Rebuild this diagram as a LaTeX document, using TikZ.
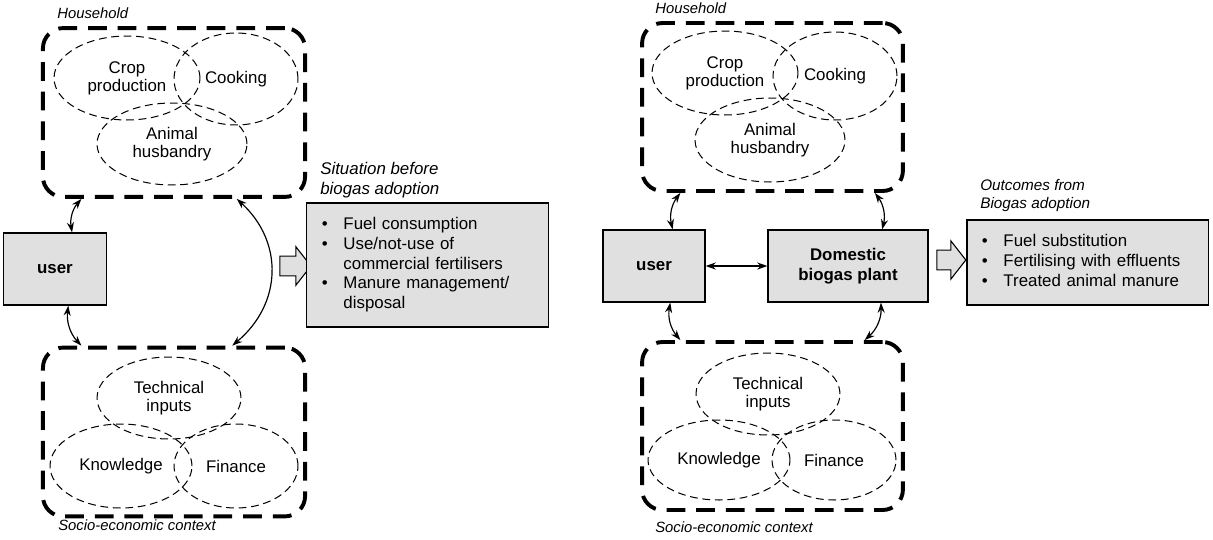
\documentclass[tikz,border=0pt]{standalone}
\usepackage{fontspec}
\setmainfont{Liberation Sans}
\usetikzlibrary{shapes.geometric, shapes.arrows, arrows.meta, positioning}
\definecolor{boxgray}{HTML}{E0E0E0}

\begin{document}
\begin{tikzpicture}[
    x=0.0225cm, y=-0.0225cm,
    every node/.style={font=\fontsize{10.8}{12.8}\selectfont},
    context/.style={rectangle, draw=black, line width=2.5pt, dash pattern=on 12pt off 7pt,
                    rounded corners=13pt, minimum width=5.9cm, minimum height=3.8cm},
    factor/.style={ellipse, draw=black, line width=0.65pt, dash pattern=on 5pt off 3pt,
                   inner sep=0pt, align=center, font=\fontsize{10.8}{11.5}\selectfont},
    actor/.style={rectangle, draw=black, line width=0.8pt, fill=boxgray, minimum height=1.62cm,
                  font=\fontsize{10.8}{12.5}\selectfont\bfseries, align=center},
    result/.style={rectangle, draw=black, line width=0.8pt, fill=boxgray, minimum width=5.42cm,
                   text width=4.75cm, inner xsep=0.34cm, align=left},
    caption/.style={font=\fontsize{9.5}{11.5}\selectfont\itshape, align=left, anchor=west, inner sep=0pt},
    link/.style={{Stealth[length=6.5pt,width=4.5pt]}-{Stealth[length=6.5pt,width=4.5pt]}, line width=0.75pt},
    bigarrow/.style={single arrow, draw=black, line width=0.7pt, fill=boxgray, inner xsep=0pt,
                     inner ysep=0.21cm, single arrow head extend=0.21cm, single arrow tip angle=104,
                     minimum height=0.7cm}
]
\useasboundingbox (0,0) rectangle (1213,539);

% Before adoption: household
\node[context] (hhA) at (174,112.5) {};
\node[caption] (hhAlab) at (57,13) {Household};
\node[factor, minimum width=3.285cm, minimum height=1.89cm] (cropA) at (127,78) {Crop\\production};
\node[factor, minimum width=2.79cm, minimum height=2.07cm] (cookA) at (236,79) {Cooking};
\node[factor, minimum width=3.375cm, minimum height=1.845cm] (animA) at (172,144) {Animal\\husbandry};

% Before adoption: socio-economic context
\node[context] (seA) at (174,432) {};
\node[caption] (seAlab) at (58,525) {Socio-economic context};
\node[factor, minimum width=3.24cm, minimum height=1.845cm] (techA) at (169,398) {Technical\\inputs};
\node[factor, minimum width=3.195cm, minimum height=1.89cm] (knowA) at (121,466) {Knowledge};
\node[factor, minimum width=2.79cm, minimum height=1.89cm] (finA) at (236,466) {Finance};

% Before adoption: user and situation
\node[actor, minimum width=2.32cm] (userA) at (55,269) {user};
\node[bigarrow] (arrA) at (291.5,266) {};
\node[result, minimum height=2.79cm] (sitA) at (427.5,265) {%
  \begin{tabular}{@{}l@{\hspace{10pt}}l@{}}
  • & Fuel consumption\\
  • & Use/not-use of\\
    & commercial fertilisers\\
  • & Manure management/\\
    & disposal
  \end{tabular}};
\node[caption, font=\fontsize{10.8}{12.5}\selectfont\itshape] (sitAlab) at (320,180) {Situation before\\biogas adoption};

\draw[link] (userA.65) to[bend left=25] (hhA.223);
\draw[link] (userA.-70) to[bend right=25] (seA.137);
\draw[link] (hhA.-54) .. controls +(47,43) and +(50,-42) .. (seA.56);

% After adoption: household
\node[context, minimum width=5.87cm, minimum height=3.78cm] (hhB) at (772.5,107) {};
\node[caption] (hhBlab) at (655,8) {Household};
\node[factor, minimum width=3.285cm, minimum height=1.89cm] (cropB) at (725,73) {Crop\\production};
\node[factor, minimum width=2.79cm, minimum height=1.98cm] (cookB) at (835,76) {Cooking};
\node[factor, minimum width=3.375cm, minimum height=1.89cm] (animB) at (770,140) {Animal\\husbandry};

% After adoption: socio-economic context
\node[context, minimum width=5.87cm, minimum height=3.78cm] (seB) at (772.5,426) {};
\node[caption] (seBlab) at (655,527) {Socio-economic context};
\node[factor, minimum width=3.24cm, minimum height=1.845cm] (techB) at (768,394) {Technical\\inputs};
\node[factor, minimum width=3.195cm, minimum height=1.8cm] (knowB) at (719,460) {Knowledge};
\node[factor, minimum width=2.79cm, minimum height=1.8cm] (finB) at (834,460) {Finance};

% After adoption: user, plant and outcomes
\node[actor, minimum width=2.295cm] (userB) at (654,266) {user};
\node[actor, minimum width=3.6cm] (domB) at (848,266) {Domestic\\biogas plant};
\node[bigarrow, minimum height=0.65cm] (arrB) at (947.5,260) {};
\node[result, minimum height=1.91cm] (outB) at (1087.5,262.5) {%
  \begin{tabular}{@{}l@{\hspace{10pt}}l@{}}
  • & Fuel substitution\\
  • & Fertilising with effluents\\
  • & Treated animal manure
  \end{tabular}};
\node[caption, font=\fontsize{9.8}{11.5}\selectfont\itshape] (outBlab) at (980,196) {Outcomes from\\Biogas adoption};

\draw[link] (userB.63) to[bend left=25] (hhB.223);
\draw[link] (domB.47) to[bend right=25] (hhB.-40);
\draw[link] (userB.-66) to[bend right=25] (seB.137);
\draw[link] (domB.-48) to[bend left=25] (seB.43);
\draw[link] (userB) -- (domB);

\end{tikzpicture}
\end{document}
